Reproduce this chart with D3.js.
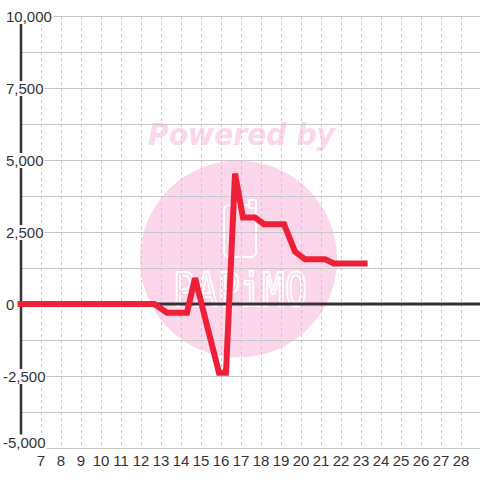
<!DOCTYPE html>
<html>
<head>
<meta charset="utf-8">
<script src="https://cdn.jsdelivr.net/npm/d3@7"></script>
<style>
  body { margin: 0; background: #fff; }
  text { font-family: "Liberation Sans", Arial, sans-serif; }
</style>
</head>
<body>
<div id="chart"></div>
<script>
// data
const dayValues = [5.83, 12.67, 13.3, 14.3, 14.7, 15.9, 16.25, 16.7, 17.1, 17.7, 18.15, 19.15, 19.7, 20.2, 21.2, 21.65, 23.33];
const amounts = [0, 0, -300, -300, 900, -2390, -2390, 4530, 3000, 3000, 2770, 2770, 1820, 1550, 1550, 1410, 1410];
const xTicks = d3.range(7, 29);
const yTicks = [-5000, -2500, 0, 2500, 5000, 7500, 10000];
const yGrid = d3.range(-5000, 10001, 1250);

let w = 480;
let h = 480;

let svg = d3.select("#chart")
    .append("svg")
    .attr("width", w)
    .attr("height", h);

let xScale = d3.scaleLinear().domain([6, 29]).range([21, 481]);
let yScale = d3.scaleLinear().domain([-5000, 10000]).range([448, 16]);

// watermark
const pink = "#fcd6ea";
svg.append("circle")
    .attr("cx", 238.5).attr("cy", 259).attr("r", 98.5)
    .attr("fill", pink);
svg.append("text")
    .attr("x", 148).attr("y", 145)
    .attr("textLength", 187).attr("lengthAdjust", "spacingAndGlyphs")
    .style("font-family", "DejaVu Sans")
    .style("font-weight", "bold").style("font-style", "italic")
    .style("font-size", "31px")
    .attr("fill", pink)
    .text("Powered by");
// little battery icon
svg.append("rect")
    .attr("x", 224).attr("y", 205).attr("width", 32).attr("height", 52).attr("rx", 5)
    .attr("fill", "none").attr("stroke", "#fff").attr("stroke-width", 2);
svg.append("rect")
    .attr("x", 249).attr("y", 200).attr("width", 7).attr("height", 8).attr("rx", 2)
    .attr("fill", pink).attr("stroke", "#fff").attr("stroke-width", 2);
svg.append("text")
    .attr("x", 173).attr("y", 306)
    .attr("textLength", 134).attr("lengthAdjust", "spacingAndGlyphs")
    .style("font-family", "DejaVu Sans Mono")
    .style("font-size", "46px")
    .attr("fill", "none").attr("stroke", "#fff").attr("stroke-width", 2)
    .text("PAPiMO");

// grid
svg.append("g").selectAll("line")
    .data(yGrid)
    .enter().append("line")
    .attr("x1", 21).attr("x2", w)
    .attr("y1", d => yScale(d) + 0.5).attr("y2", d => yScale(d) + 0.5)
    .attr("stroke", "#c8c8c8");

svg.append("g").selectAll("line")
    .data(xTicks)
    .enter().append("line")
    .attr("x1", d => xScale(d) + 0.5).attr("x2", d => xScale(d) + 0.5)
    .attr("y1", 16).attr("y2", 448)
    .attr("stroke", "#c8c8c8")
    .attr("stroke-dasharray", "3,3");

// axis lines
svg.append("line")
    .attr("x1", 21).attr("x2", 21)
    .attr("y1", 16).attr("y2", 448)
    .attr("stroke", "#333").attr("stroke-width", 2.5);
svg.append("line")
    .attr("x1", 21).attr("x2", w)
    .attr("y1", yScale(0)).attr("y2", yScale(0))
    .attr("stroke", "#333").attr("stroke-width", 3);

// series
let line = d3.line()
    .x((d, i) => xScale(d))
    .y((d, i) => yScale(amounts[i]));

svg.append("path")
    .datum(dayValues)
    .attr("d", line)
    .attr("fill", "none")
    .attr("stroke", "#ee2038")
    .attr("stroke-width", 6)
    .attr("stroke-linejoin", "miter");

// y labels with white boxes
let yLab = svg.append("g").selectAll("g")
    .data(yTicks)
    .enter().append("g");
yLab.each(function(d) {
    let g = d3.select(this);
    let cy = Math.min(yScale(d), 441.5);
    let t = g.append("text")
        .attr("x", d < 0 ? 3 : 6)
        .attr("y", cy)
        .attr("dy", "0.4em")
        .style("font-size", "15px")
        .attr("fill", "#333")
        .text(d3.format(",")(d).replace("\u2212", "-"));
    let b = t.node().getBBox();
    g.insert("rect", "text")
        .attr("x", b.x - 1).attr("y", cy - 7)
        .attr("width", b.width + 2).attr("height", 15)
        .attr("fill", "#fff");
});

// x labels
svg.append("g").selectAll("text")
    .data(xTicks)
    .enter().append("text")
    .attr("x", d => xScale(d))
    .attr("y", 466)
    .attr("text-anchor", "middle")
    .style("font-size", "15px")
    .attr("fill", "#333")
    .text(d => d);
</script>
</body>
</html>
